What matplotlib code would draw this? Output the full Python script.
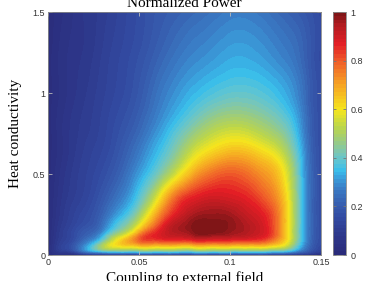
import numpy as np
import matplotlib
matplotlib.use('Agg')
import matplotlib.pyplot as plt
import matplotlib.tri as mtri
from matplotlib.colors import LinearSegmentedColormap

# Сітка значень, зчитана з рисунку
coupling = [0, 0.01, 0.02, 0.03, 0.04, 0.05, 0.06, 0.07, 0.08, 0.09,
            0.10, 0.11, 0.12, 0.13, 0.14, 0.145, 0.15]
conductivity = [0, 0.015, 0.04, 0.08, 0.13, 0.18, 0.25, 0.35, 0.5,
                0.65, 0.8, 1.0, 1.25, 1.5]

# рядки: conductivity, стовпці: coupling
power = [
    [0.02, 0.03, 0.05, 0.06, 0.07, 0.08, 0.08, 0.08, 0.08, 0.08, 0.08, 0.08, 0.08, 0.07, 0.05, 0.04, 0.03],
    [0.02, 0.08, 0.20, 0.27, 0.30, 0.31, 0.31, 0.31, 0.31, 0.31, 0.31, 0.31, 0.30, 0.27, 0.18, 0.13, 0.10],
    [0.02, 0.14, 0.30, 0.48, 0.53, 0.54, 0.54, 0.54, 0.54, 0.54, 0.54, 0.54, 0.53, 0.48, 0.28, 0.19, 0.14],
    [0.02, 0.13, 0.25, 0.43, 0.64, 0.76, 0.78, 0.79, 0.80, 0.80, 0.80, 0.79, 0.76, 0.62, 0.33, 0.21, 0.16],
    [0.02, 0.12, 0.20, 0.31, 0.50, 0.72, 0.87, 0.93, 0.97, 0.98, 0.96, 0.93, 0.87, 0.66, 0.34, 0.22, 0.16],
    [0.02, 0.11, 0.17, 0.25, 0.40, 0.58, 0.80, 0.94, 0.99, 1.00, 0.98, 0.94, 0.87, 0.66, 0.34, 0.22, 0.16],
    [0.02, 0.10, 0.15, 0.22, 0.33, 0.47, 0.70, 0.87, 0.95, 0.97, 0.96, 0.91, 0.85, 0.66, 0.34, 0.22, 0.16],
    [0.02, 0.09, 0.13, 0.19, 0.27, 0.38, 0.57, 0.78, 0.87, 0.90, 0.89, 0.86, 0.79, 0.64, 0.34, 0.22, 0.16],
    [0.02, 0.08, 0.12, 0.16, 0.22, 0.31, 0.41, 0.55, 0.69, 0.77, 0.80, 0.77, 0.71, 0.59, 0.33, 0.22, 0.16],
    [0.02, 0.07, 0.11, 0.14, 0.19, 0.26, 0.34, 0.43, 0.54, 0.61, 0.65, 0.64, 0.59, 0.50, 0.31, 0.21, 0.16],
    [0.02, 0.07, 0.10, 0.13, 0.17, 0.22, 0.29, 0.36, 0.43, 0.49, 0.52, 0.51, 0.47, 0.41, 0.28, 0.20, 0.16],
    [0.02, 0.06, 0.09, 0.12, 0.15, 0.19, 0.25, 0.30, 0.34, 0.37, 0.39, 0.39, 0.37, 0.33, 0.25, 0.19, 0.16],
    [0.02, 0.06, 0.08, 0.11, 0.14, 0.17, 0.21, 0.25, 0.28, 0.30, 0.32, 0.32, 0.30, 0.27, 0.22, 0.18, 0.15],
    [0.02, 0.05, 0.08, 0.10, 0.13, 0.16, 0.19, 0.21, 0.23, 0.25, 0.27, 0.27, 0.25, 0.22, 0.19, 0.17, 0.15],
]

cbar_ticks = [0, 0.2, 0.4, 0.6, 0.8, 1]
cbar_labels = ['0', '0.2', '0.4', '0.6', '0.8', '1']
x_ticks = [0, 0.05, 0.1, 0.15]
x_labels = ['0', '0.05', '0.1', '0.15']
y_ticks = [0, 0.5, 1, 1.5]
y_labels = ['0', '0.5', '1', '1.5']

# кольорова шкала, схожа на jet, але блідіша
cmap = LinearSegmentedColormap.from_list('pale_jet', [
    (0.00, '#2a2a78'), (0.08, '#2d378a'), (0.15, '#3249a0'),
    (0.22, '#3862b2'), (0.28, '#3a80c8'), (0.32, '#3aa0dc'),
    (0.35, '#38bdeb'), (0.38, '#58c4d8'), (0.42, '#78c6b8'),
    (0.47, '#9acb80'), (0.53, '#bcd64a'), (0.60, '#f5e61e'),
    (0.70, '#f6a623'), (0.80, '#ef5d29'), (0.87, '#e31e25'),
    (0.95, '#b01b20'), (1.00, '#7c1416'),
])

X, Y = np.meshgrid(coupling, conductivity)
Z = np.array(power)
tri = mtri.Triangulation(X.ravel() / 0.15, Y.ravel() / 1.5)
refiner = mtri.UniformTriRefiner(tri)
tri_f, z_f = refiner.refine_field(Z.ravel(), subdiv=4)
tri_plot = mtri.Triangulation(tri_f.x * 0.15, tri_f.y * 1.5, tri_f.triangles)

fig = plt.figure(figsize=(3.85, 2.81), dpi=100)
ax = fig.add_axes([0.1247, 0.0925, 0.7091, 0.8645])
cax = fig.add_axes([0.865, 0.0925, 0.034, 0.8645])

levels = np.linspace(0, 1, 65)
cs = ax.tricontourf(tri_plot, np.clip(z_f, 0.001, 0.999), levels=levels, cmap=cmap)
ax.set_xlim(0, 0.15)
ax.set_ylim(0, 1.5)

tick_font = dict(family='Liberation Sans', size=6.5, color='#333333')
ax.set_xticks(x_ticks)
ax.set_xticklabels(x_labels, **tick_font)
ax.set_yticks(y_ticks)
ax.set_yticklabels(y_labels, **tick_font)
ax.tick_params(direction='in', length=3, width=0.6, color='#bbbbbb',
               top=True, right=True, pad=2)
for s in ax.spines.values():
    s.set_color('#888888')
    s.set_linewidth(0.6)

ax.set_title('Normalized Power', family='Liberation Serif', size=11, pad=4)
ax.set_xlabel('Coupling to external field', family='Liberation Serif', size=11, labelpad=3)
ax.set_ylabel('Heat conductivity', family='Liberation Serif', size=11, labelpad=8)

cb = fig.colorbar(cs, cax=cax, ticks=cbar_ticks)
cb.ax.set_yticklabels(cbar_labels, **tick_font)
cb.ax.tick_params(direction='in', length=2.5, width=0.6, color='#777777',
                  left=True, right=True, pad=3)
cb.outline.set_edgecolor('#888888')
cb.outline.set_linewidth(0.6)

plt.savefig('out.png', dpi=100)
